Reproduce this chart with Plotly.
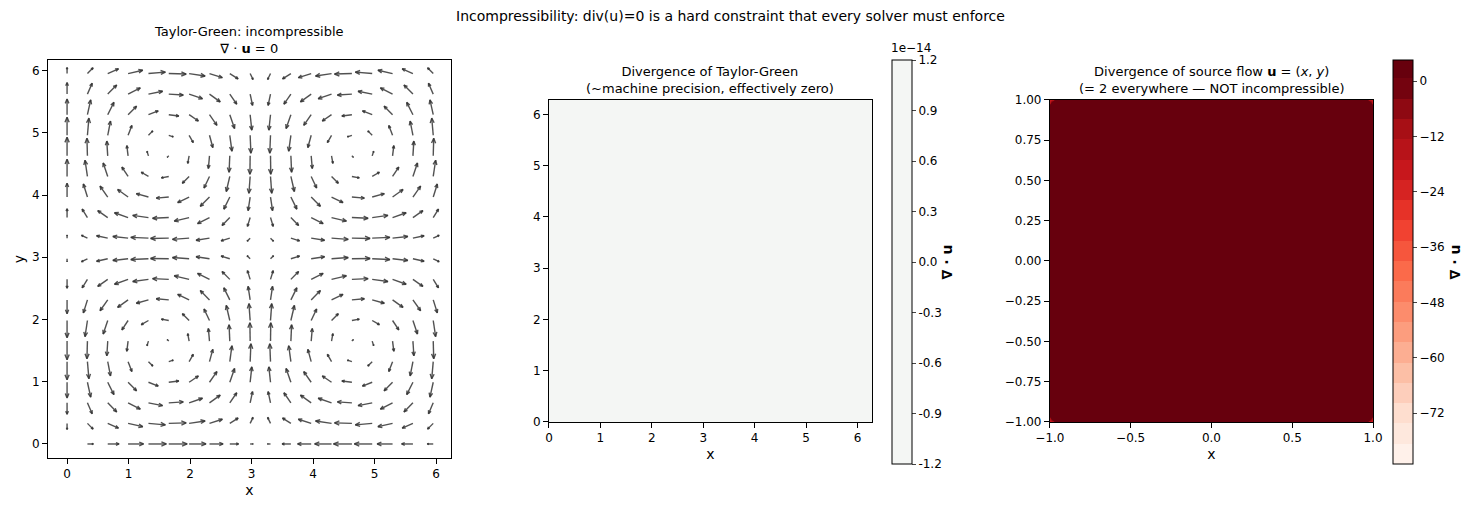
import plotly.graph_objects as go
import plotly.figure_factory as ff

# Taylor-Green field sampled on a 20x20 grid over [0, 2pi]
grid = [0.0, 0.331, 0.661, 0.992, 1.323, 1.653, 1.984, 2.315, 2.645, 2.976,
        3.307, 3.638, 3.968, 4.299, 4.630, 4.960, 5.291, 5.622, 5.952, 6.283]
sin_g = [0.0, 0.325, 0.614, 0.837, 0.969, 0.997, 0.916, 0.736, 0.476, 0.165,
         -0.165, -0.476, -0.736, -0.916, -0.997, -0.969, -0.837, -0.614, -0.325, 0.0]
cos_g = [1.0, 0.946, 0.789, 0.546, 0.245, -0.082, -0.401, -0.677, -0.879, -0.986,
         -0.986, -0.879, -0.677, -0.401, -0.082, 0.245, 0.546, 0.789, 0.946, 1.0]

# middle panel: divergence of Taylor-Green (machine zero)
tg_x = [0.0, 6.283]
tg_div = [[0.0, 0.0], [0.0, 0.0]]
tg_ticks = [1.2, 0.9, 0.6, 0.3, 0.0, -0.3, -0.6, -0.9, -1.2]

# right panel: divergence of source flow, edges from one-sided differences
src_x = [-1.0, -0.985, 0.985, 1.0]
src_div = [[-20, -20, -20, -20],
           [-20, 2, 2, -20],
           [-20, 2, 2, -20],
           [-20, -20, -20, -20]]
src_ticks = [0, -12, -24, -36, -48, -60, -72]

X, Y, U, V = [], [], [], []
for j, y in enumerate(grid):
    for i, x in enumerate(grid):
        X.append(x); Y.append(y)
        U.append(sin_g[i] * cos_g[j])
        V.append(-cos_g[i] * sin_g[j])

q = ff.create_quiver(X, Y, U, V, scale=0.3, arrow_scale=0.3, angle=0.4,
                     line=dict(color="rgba(50,50,50,0.85)", width=1.4))

fig = go.Figure()
for t in q.data:
    t.showlegend = False
    t.xaxis = "x"; t.yaxis = "y"
    fig.add_trace(t)

cb = dict(y=0.5, len=1.0, thickness=20, xpad=0, ypad=0, xanchor="left",
          outlinewidth=1, outlinecolor="black", ticks="outside", ticklen=4)

fig.add_trace(go.Heatmap(
    x=tg_x, y=tg_x, z=tg_div, xaxis="x2", yaxis="y2",
    colorscale=[[0, "#f4f6f4"], [1, "#f4f6f4"]], zmin=-1.2e-14, zmax=1.2e-14,
    colorbar=dict(cb, x=0.6183,
                  tickvals=[v * 1e-14 for v in tg_ticks],
                  ticktext=["%.1f" % v for v in tg_ticks],
                  title=dict(text="<b>∇ · u</b>", side="right"))))

fig.add_trace(go.Contour(
    x=src_x, y=src_x, z=src_div, xaxis="x3", yaxis="y3",
    colorscale="Reds", zmin=-83, zmax=4.6, line=dict(width=0),
    contours=dict(coloring="fill", start=-83, end=4.6, size=4.4),
    colorbar=dict(cb, x=0.9853, tickvals=src_ticks,
                  title=dict(text="<b>∇ · u</b>", side="right"))))

ax = dict(showgrid=False, zeroline=False, showline=True, mirror=True,
          linecolor="black", ticks="outside", tickcolor="black", automargin=False)
fig.update_layout(
    width=1481, height=516, margin=dict(l=40, r=76, t=52, b=60, autoexpand=False),
    plot_bgcolor="white", paper_bgcolor="white",
    font=dict(family="DejaVu Sans", size=12, color="black"),
    xaxis=dict(ax, domain=[0, 0.2952], range=[-0.31, 6.24],
               tickvals=[0, 1, 2, 3, 4, 5, 6], title=dict(text="x", standoff=4)),
    yaxis=dict(ax, domain=[0.0149, 1], range=[-0.225, 6.17],
               tickvals=[0, 1, 2, 3, 4, 5, 6], title=dict(text="y", standoff=4)),
    xaxis2=dict(ax, domain=[0.367, 0.6037], range=[0, 6.283], anchor="y2",
                tickvals=[0, 1, 2, 3, 4, 5, 6], title=dict(text="x", standoff=4)),
    yaxis2=dict(ax, domain=[0.104, 0.901], range=[0, 6.283], anchor="x2",
                tickvals=[0, 1, 2, 3, 4, 5, 6]),
    xaxis3=dict(ax, domain=[0.734, 0.9707], range=[-1, 1], anchor="y3",
                tickvals=[-1, -0.5, 0, 0.5, 1], ticktext=["−1.0", "−0.5", "0.0", "0.5", "1.0"],
                title=dict(text="x", standoff=4)),
    yaxis3=dict(ax, domain=[0.104, 0.901], range=[-1, 1], anchor="x3",
                tickvals=[-1, -0.75, -0.5, -0.25, 0, 0.25, 0.5, 0.75, 1],
                ticktext=["−1.00", "−0.75", "−0.50", "−0.25", "0.00", "0.25", "0.50", "0.75", "1.00"]),
)

def note(text, x, y, size=13):
    fig.add_annotation(text=text, x=x, y=y, xref="paper", yref="paper",
                       showarrow=False, font=dict(size=size), xanchor="center", yanchor="bottom")

note("Incompressibility: div(u)=0 is a hard constraint that every solver must enforce", 0.5, 1.085, 14)
note("Taylor-Green: incompressible<br>∇ · <b>u</b> = 0", 0.1476, 1.005)
note("Divergence of Taylor-Green<br>(~machine precision, effectively zero)", 0.4853, 0.905)
note("Divergence of source flow <b>u</b> = (<i>x</i>, <i>y</i>)<br>(= 2 everywhere — NOT incompressible)", 0.8523, 0.905)
note("1e−14", 0.632, 1.008, 12)

fig.write_html("out.html")
